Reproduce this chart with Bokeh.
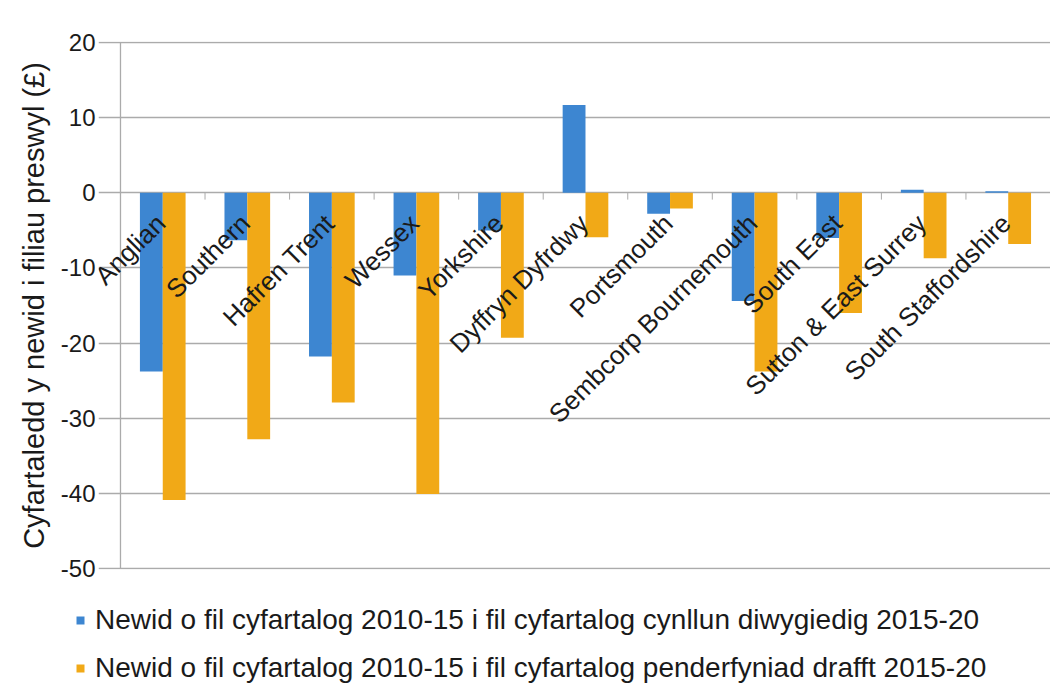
import math
from bokeh.plotting import figure
from bokeh.layouts import column
from bokeh.models import (ColumnDataSource, Legend, LegendItem, Span,
                          FixedTicker, CustomJSTickFormatter, Range1d)
from bokeh.transform import dodge
from bokeh.core.properties import value
from bokeh.embed import file_html
from bokeh.resources import INLINE

categories = ["Anglian", "Southern", "Hafren Trent", "Wessex", "Yorkshire",
              "Dyffryn Dyfrdwy", "Portsmouth", "Sembcorp Bournemouth",
              "South East", "Sutton & East Surrey", "South Staffordshire"]
plan_change = [-23.8, -6.3, -21.8, -11.0, -5.0, 11.7, -2.8, -14.4, -6.0, 0.4, 0.2]
draft_change = [-40.9, -32.8, -27.9, -40.1, -19.3, -5.9, -2.1, -23.8, -16.0, -8.7, -6.8]
series_names = ["Newid o fil cyfartalog 2010-15 i fil cyfartalog cynllun diwygiedig 2015-20",
                "Newid o fil cyfartalog 2010-15 i fil cyfartalog penderfyniad drafft 2015-20"]
y_ticks = [-50, -40, -30, -20, -10, 0, 10, 20]
y_title = "Cyfartaledd y newid i filiau preswyl (£)"

BLUE = "#3D86D1"
ORANGE = "#F1A917"
GRID = "#ABABAB"
TEXT = "#1a1a1a"
FONT = "Liberation Sans"

n = len(categories)
src = ColumnDataSource(dict(idx=list(range(n)), cat=categories, plan=plan_change,
                            draft=draft_change, zero=[0] * n, tickb=[-0.9] * n))

# numeric category axis: category i centred on i; a little extra room on the left
# so that the gridlines also act as the short tick marks of the value axis
LEFT_PAD = 0.26
Y_PAD = 0.15
p = figure(width=1050, height=590, x_range=Range1d(-0.5 - LEFT_PAD, n - 0.5),
           y_range=(y_ticks[0] - Y_PAD, y_ticks[-1] + Y_PAD),
           output_backend="svg", toolbar_location=None,
           min_border_left=98, min_border_right=0, min_border_top=41, min_border_bottom=21)
p.outline_line_color = None
p.background_fill_color = "white"
p.frame_align = False

r1 = p.vbar(x=dodge("idx", -0.135), top="plan", bottom=0, width=0.27,
            source=src, fill_color=BLUE, line_color=None)
r2 = p.vbar(x=dodge("idx", 0.135), top="draft", bottom=0, width=0.27,
            source=src, fill_color=ORANGE, line_color=None)

# value-axis line at the left category boundary
p.segment(x0=[-0.5], y0=[y_ticks[0]], x1=[-0.5], y1=[y_ticks[-1]],
          line_color=GRID, line_width=1.3)

# small tick marks on the zero line at category boundaries
p.segment(x0=dodge("idx", 0.5), y0="zero", x1=dodge("idx", 0.5), y1="tickb",
          source=src, line_color=GRID, line_width=1)

# category labels near the zero line
p.text(x="idx", y="zero", text="cat", source=src,
       angle=math.pi / 4, text_align="right", text_baseline="middle",
       text_font=value(FONT), text_font_size="26px", text_color=TEXT,
       x_offset=-2, y_offset=26)

p.xaxis.visible = False
p.xgrid.grid_line_color = None
p.ygrid.ticker = FixedTicker(ticks=y_ticks)
p.ygrid.grid_line_color = GRID
p.ygrid.grid_line_width = 1.3

ax = p.yaxis[0]
ax.ticker = FixedTicker(ticks=y_ticks)
ax.formatter = CustomJSTickFormatter(code="return tick.toFixed(0)")
ax.axis_line_color = None
ax.major_tick_line_color = None
ax.major_tick_out = 0
ax.major_tick_in = 0
ax.minor_tick_line_color = None
ax.major_label_text_font = FONT
ax.major_label_text_font_size = "24px"
ax.major_label_text_color = TEXT
ax.major_label_standoff = 3
ax.axis_label = y_title
ax.axis_label_text_font = FONT
ax.axis_label_text_font_size = "29px"
ax.axis_label_text_font_style = "normal"
ax.axis_label_text_color = TEXT
ax.axis_label_standoff = 8

# legend figure underneath (its frame is not aligned with the chart's)
lg = figure(width=1050, height=94, x_range=Range1d(0, 1), y_range=Range1d(0, 1),
            output_backend="svg", toolbar_location=None, x_axis_type=None, y_axis_type=None,
            min_border=0)
lg.frame_align = False
lg.outline_line_color = None
lg.grid.visible = False
d1 = lg.vbar(x="zero", top="zero", width=0, source=src, fill_color=BLUE, line_color=None)
d2 = lg.vbar(x="zero", top="zero", width=0, source=src, fill_color=ORANGE, line_color=None)
legend = Legend(items=[LegendItem(label=series_names[0], renderers=[d1]),
                       LegendItem(label=series_names[1], renderers=[d2])],
                location=(75, 0), orientation="vertical",
                label_text_font=FONT, label_text_font_size="28px",
                label_text_color=TEXT, glyph_width=10, glyph_height=10,
                label_standoff=10, spacing=16, padding=0, margin=0,
                border_line_color=None, background_fill_alpha=0)
lg.add_layout(legend, "center")

layout = column(p, lg, spacing=0)
open("out.html", "w").write(file_html(layout, INLINE))
